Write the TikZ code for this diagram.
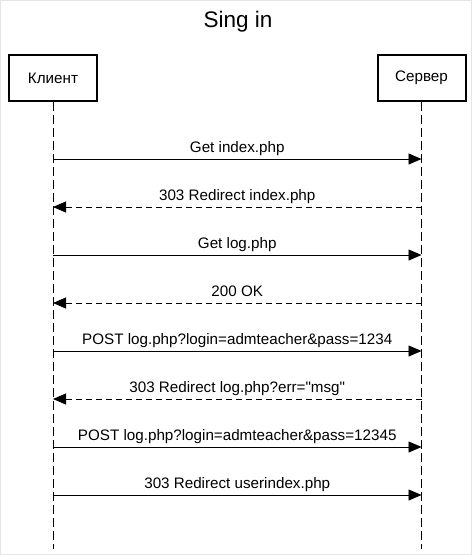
\documentclass[tikz,border=0pt]{standalone}
\usepackage{fontspec}
\setmainfont{Liberation Sans}[Ligatures=TeXOff]
\usetikzlibrary{arrows.meta}
\begin{document}
\begin{tikzpicture}[x=1pt,y=-1pt,
  actor/.style={draw, line width=2pt, minimum width=88pt, minimum height=46pt,
    inner sep=0pt, font=\fontsize{15.2}{18}\selectfont},
  lifeline/.style={line width=0.9pt, dash pattern=on 9pt off 4pt},
  msg/.style={line width=0.9pt, -{Triangle[length=13pt,width=11pt]}},
  reply/.style={msg, dash pattern=on 6pt off 4pt},
  lbl/.style={midway, anchor=base, yshift=7pt, inner sep=0pt,
    font=\fontsize{15.2}{18}\selectfont}
]
% canvas and outer frame
\fill[white] (0,0) rectangle (472,555);
\draw[gray!20, line width=1pt] (0.5,0.5) rectangle (471.5,554.5);
\useasboundingbox (0,0) rectangle (472,555);

% title
\node[anchor=base, inner sep=0pt, font=\fontsize{22.5}{26}\selectfont] (title) at (238,27) {Sing in};

% participants
\node[actor] (c) at (53,78) {Клиент};
\node[actor] (s) at (421.5,78) {Сервер};

% lifelines
\coordinate (cend) at (53,549);
\coordinate (send) at (421.5,549);
\draw[lifeline] (c.south) -- (cend);
\draw[lifeline] (s.south) -- (send);

% message anchors on the lifelines
\foreach \i/\y in {1/159,2/207,3/255,4/303,5/351,6/399,7/447,8/495}{
  \coordinate (c\i) at (53,\y);
  \coordinate (s\i) at (421.5,\y);
}

% messages
\draw[msg]   (c1) -- (s1) node[lbl] {Get index.php};
\draw[reply] (s2) -- (c2) node[lbl] {303 Redirect index.php};
\draw[msg]   (c3) -- (s3) node[lbl] {Get log.php};
\draw[reply] (s4) -- (c4) node[lbl] {200 OK};
\draw[msg]   (c5) -- (s5) node[lbl] {POST log.php?login=admteacher\&pass=1234};
\draw[reply] (s6) -- (c6) node[lbl] {303 Redirect log.php?err="msg"};
\draw[msg]   (c7) -- (s7) node[lbl] {POST log.php?login=admteacher\&pass=12345};
\draw[msg]   (c8) -- (s8) node[lbl] {303 Redirect userindex.php};
\end{tikzpicture}
\end{document}
